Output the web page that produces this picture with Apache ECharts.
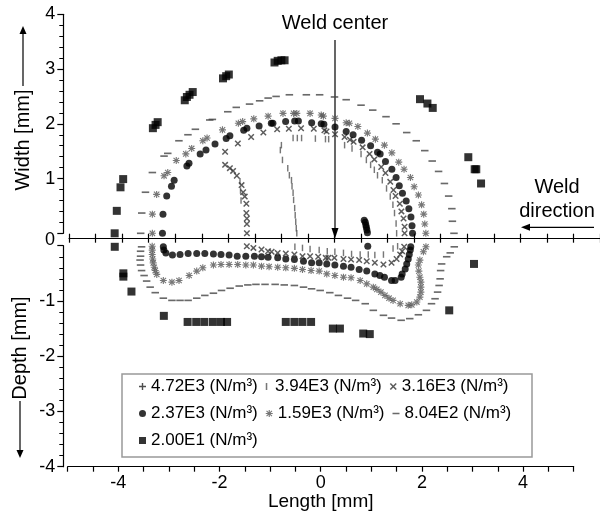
<!DOCTYPE html>
<html>
<head>
<meta charset="utf-8">
<script src="https://cdn.jsdelivr.net/npm/echarts@6/dist/echarts.min.js"></script>
<style>
  html, body { margin: 0; padding: 0; background: #fff; }
  #main { width: 600px; height: 516px; }
</style>
</head>
<body>
<div id="main"></div>
<script>
// tick labels
var xTickLabels = [-4, -2, 0, 2, 4];
var yTickLabelsTop = [1, 2, 3, 4];
var yTickLabelsBottom = [-1, -2, -3, -4];

var seriesNames = ['4.72E3 (N/m³)', '3.94E3 (N/m³)', '3.16E3 (N/m³)',
                   '2.37E3 (N/m³)', '1.59E3 (N/m³)', '8.04E2 (N/m³)', '2.00E1 (N/m³)'];

// top view (width), [length, width]
var plusTop = [];
var barTop = [[-0.78,1.74],[-0.70,1.74],[-0.62,1.74],[-0.36,1.73],[-0.17,1.72],[-0.11,1.72],
  [0.19,1.61],[0.33,1.55],[0.50,1.45],[0.60,1.34],[0.68,1.25],[0.75,1.16],[0.81,1.06],[0.90,0.97],
  [0.98,0.82],[1.05,0.67],[1.10,0.52],[1.13,0.37],[1.16,0.18],[1.17,0.00],
  [-1.00,1.61],[-1.02,1.52],[-0.98,1.34],[-0.88,1.19],[-0.85,1.06],[-0.81,0.97],[-0.80,0.86],
  [-0.78,0.74],[-0.77,0.61],[-0.75,0.46],[-0.74,0.33],[-0.73,0.21],[-0.72,0.09],[-0.71,0.00],
  [-1.78,0.95],[-1.77,0.78],[-1.76,0.60]];
var crossTop = [[-1.65,0.00],[-1.65,0.17],[-1.65,0.27],[-1.66,0.37],[-1.66,0.54],[-1.69,0.67],[-1.72,0.75],
  [-1.75,0.88],[-1.84,1.05],[-1.91,1.14],[-1.97,1.19],[-2.06,1.25],[-2.06,1.49],[-1.82,1.64],[-1.57,1.76],
  [-1.34,1.84],[-1.08,1.90],[-0.86,1.91],[-0.63,1.92],[-0.39,1.91],[-0.19,1.88],[-0.15,1.86],[0.01,1.81],
  [0.19,1.76],[0.29,1.71],[0.36,1.67],[0.53,1.57],[0.66,1.45],[0.75,1.35],[0.88,1.21],[0.96,1.10],
  [1.05,0.94],[1.11,0.79],[1.15,0.68],[1.23,0.54],[1.26,0.40],[1.30,0.27],[1.32,0.12],[1.32,0.00]];
var circleTop = [[-3.24,0.00],[-3.23,0.35],[-3.16,0.68],[-3.07,0.86],[-3.02,0.97],[-2.78,1.23],[-2.74,1.28],
  [-2.53,1.45],[-2.42,1.52],[-2.25,1.63],[-2.04,1.73],[-1.97,1.78],[-1.71,1.88],[-1.65,1.92],[-1.42,1.96],
  [-1.19,2.01],[-1.16,2.01],[-0.92,2.04],[-0.75,2.05],[-0.68,2.05],[-0.43,2.02],[-0.25,2.00],[-0.20,1.99],
  [0.01,1.94],[0.22,1.86],[0.35,1.80],[0.51,1.70],[0.68,1.60],[0.81,1.48],[0.86,1.45],[0.96,1.31],
  [1.08,1.17],[1.16,1.02],[1.22,0.87],[1.28,0.73],[1.35,0.59],[1.40,0.45],[1.44,0.30],[1.46,0.14],[1.47,0.00],
  [0.56,0.24],[0.58,0.20],[0.59,0.15],[0.60,0.11],[0.61,0.06],[0.62,0.01]];
var starTop = [[-3.43,0.00],[-3.43,0.35],[-3.35,0.71],[-3.21,1.05],[-3.14,1.11],[-2.98,1.33],[-2.80,1.45],
  [-2.69,1.55],[-2.48,1.69],[-2.40,1.74],[-2.11,1.89],[-1.81,2.01],[-1.73,2.04],[-1.52,2.09],[-1.25,2.14],
  [-0.97,2.19],[-0.77,2.19],[-0.71,2.19],[-0.46,2.19],[-0.25,2.16],[-0.21,2.14],[0.01,2.10],[0.22,2.02],
  [0.28,2.01],[0.44,1.95],[0.62,1.83],[0.77,1.72],[0.94,1.61],[1.08,1.47],[1.21,1.30],[1.31,1.17],
  [1.43,1.02],[1.50,0.85],[1.58,0.70],[1.64,0.52],[1.68,0.35],[1.70,0.17],[1.72,0.00]];
var dashTop = [[-3.65,0.00],[-3.63,0.37],[-3.56,0.75],[-3.43,1.11],[-3.21,1.41],[-3.14,1.46],[-2.93,1.69],
  [-2.76,1.80],[-2.62,1.90],[-2.35,2.07],[-2.30,2.08],[-2.01,2.22],[-1.85,2.30],[-1.60,2.36],[-1.41,2.42],
  [-1.25,2.47],[-1.10,2.50],[-0.85,2.53],[-0.53,2.53],[-0.28,2.53],[0.00,2.49],[0.22,2.44],[0.50,2.34],
  [0.72,2.25],[0.97,2.13],[1.16,2.00],[1.36,1.84],[1.54,1.69],[1.70,1.51],[1.84,1.32],[1.96,1.13],
  [2.07,0.91],[2.15,0.68],[2.21,0.45],[2.22,0.22],[2.25,0.00]];
var squareTop = [[-4.14,0.00],[-4.10,0.41],[-4.03,0.84],[-3.98,0.99],[-3.42,1.92],[-3.37,1.98],[-3.33,2.03],
  [-2.82,2.43],[-2.78,2.49],[-2.73,2.53],[-2.67,2.58],[-2.10,2.83],[-2.04,2.87],[-1.99,2.90],
  [-1.13,3.12],[-1.07,3.15],[-1.00,3.16],[-0.94,3.16],[1.61,2.45],[1.75,2.37],[1.85,2.29],
  [2.52,1.39],[2.64,1.17],[2.67,1.17],[2.76,0.91]];

// cross section (depth), [length, depth]
var plusBottom = [];
var barBottom = [[-0.51,-0.02],[-0.36,-0.04],[-0.21,-0.06],[-0.03,-0.08],[0.13,-0.10],[0.28,-0.11],
  [0.45,-0.13],[0.61,-0.15],[0.78,-0.16],[0.94,-0.16],[1.07,-0.17],[1.24,-0.16],[1.43,-0.05],[1.52,-0.01]];
var crossBottom = [[-1.46,-0.01],[-1.33,-0.04],[-1.17,-0.07],[-1.04,-0.10],[-0.97,-0.11],[-0.85,-0.13],
  [-0.69,-0.14],[-0.52,-0.16],[-0.36,-0.19],[-0.21,-0.19],[-0.05,-0.20],[0.10,-0.22],[0.15,-0.22],
  [0.27,-0.22],[0.45,-0.24],[0.60,-0.25],[0.76,-0.26],[0.91,-0.28],[1.07,-0.31],[1.24,-0.34],
  [1.40,-0.31],[1.50,-0.24],[1.57,-0.16],[1.61,-0.10],[1.65,-0.02]];
var circleBottom = [[-3.11,-0.02],[-3.10,-0.08],[-3.06,-0.13],[-2.93,-0.17],[-2.78,-0.16],[-2.62,-0.14],
  [-2.45,-0.14],[-2.29,-0.14],[-2.12,-0.15],[-1.97,-0.16],[-1.81,-0.17],[-1.65,-0.19],[-1.48,-0.19],
  [-1.31,-0.19],[-1.17,-0.20],[-1.04,-0.21],[-0.85,-0.22],[-0.69,-0.24],[-0.52,-0.25],[-0.34,-0.28],
  [-0.18,-0.31],[-0.03,-0.31],[0.12,-0.33],[0.28,-0.35],[0.45,-0.37],[0.60,-0.39],[0.76,-0.43],
  [0.91,-0.46],[1.07,-0.51],[1.17,-0.54],[1.26,-0.57],[1.40,-0.63],[1.47,-0.63],[1.59,-0.57],
  [1.61,-0.51],[1.67,-0.42],[1.70,-0.33],[1.73,-0.24],[1.75,-0.16],[1.77,-0.08],[1.78,-0.02],[0.93,-0.01]];
var starBottom = [[-3.33,-0.01],[-3.33,-0.08],[-3.33,-0.16],[-3.32,-0.24],[-3.31,-0.31],[-3.29,-0.39],
  [-3.27,-0.45],[-3.24,-0.52],[-3.11,-0.63],[-2.94,-0.66],[-2.80,-0.63],[-2.60,-0.54],[-2.45,-0.46],
  [-2.33,-0.40],[-2.12,-0.35],[-1.97,-0.34],[-1.81,-0.34],[-1.64,-0.34],[-1.48,-0.35],[-1.33,-0.35],
  [-1.17,-0.37],[-1.02,-0.38],[-0.85,-0.39],[-0.69,-0.40],[-0.52,-0.41],[-0.36,-0.43],[-0.19,-0.45],
  [-0.03,-0.46],[0.12,-0.51],[0.28,-0.54],[0.45,-0.57],[0.60,-0.58],[0.78,-0.63],[0.91,-0.69],
  [1.04,-0.75],[1.11,-0.79],[1.19,-0.84],[1.27,-0.90],[1.35,-0.95],[1.43,-0.99],[1.57,-1.05],
  [1.73,-1.08],[1.80,-1.07],[1.90,-1.02],[1.96,-0.93],[1.98,-0.84],[1.98,-0.75],[1.98,-0.66],
  [1.96,-0.57],[1.94,-0.46],[1.93,-0.35],[1.96,-0.26],[2.03,-0.11],[2.08,-0.02]];
var dashBottom = [[-3.54,-0.02],[-3.56,-0.10],[-3.56,-0.19],[-3.57,-0.26],[-3.56,-0.35],[-3.54,-0.45],
  [-3.49,-0.54],[-3.44,-0.64],[-3.37,-0.75],[-3.27,-0.85],[-3.11,-0.95],[-2.94,-0.99],[-2.78,-0.99],
  [-2.62,-0.99],[-2.45,-0.95],[-2.29,-0.90],[-2.12,-0.86],[-1.96,-0.81],[-1.79,-0.77],[-1.61,-0.73],
  [-1.44,-0.71],[-1.28,-0.70],[-1.10,-0.70],[-0.90,-0.70],[-0.72,-0.71],[-0.52,-0.72],[-0.34,-0.75],
  [-0.18,-0.78],[-0.01,-0.81],[0.18,-0.85],[0.35,-0.90],[0.53,-0.95],[0.69,-0.99],[0.88,-1.05],
  [1.04,-1.17],[1.24,-1.26],[1.40,-1.31],[1.59,-1.35],[1.76,-1.32],[1.93,-1.25],[2.09,-1.17],
  [2.19,-1.05],[2.26,-0.96],[2.31,-0.84],[2.34,-0.72],[2.36,-0.60],[2.37,-0.45],[2.39,-0.33],
  [2.49,-0.20],[2.56,-0.13],[2.64,-0.02]];
var squareBottom = [[-4.07,-0.02],[-3.90,-0.50],[-3.90,-0.56],[-3.74,-0.83],[-3.10,-1.27],[-2.63,-1.38],
  [-2.46,-1.38],[-2.30,-1.38],[-2.13,-1.38],[-1.97,-1.38],[-1.85,-1.38],[-0.69,-1.38],[-0.52,-1.38],
  [-0.36,-1.38],[-0.19,-1.38],[0.24,-1.50],[0.38,-1.50],[0.84,-1.59],[0.97,-1.60],[2.54,-1.17],[3.03,-0.33]];

var FONT = '"Liberation Sans", Arial, sans-serif';

// marker shapes
var SYM = {
  plus: 'path://M4,0H6V10H4ZM0,4H10V6H0Z',
  bar: 'path://M0,0H2.2V10H0Z',
  cross: 'path://M0,1.6L1.6,0L10,8.4L8.4,10ZM8.4,0L10,1.6L1.6,10L0,8.4Z',
  star: 'path://M4.2,0H5.8V10H4.2ZM0,4.2H10V5.8H0ZM0.6,1.7L1.7,0.6L9.4,8.3L8.3,9.4ZM8.3,0.6L9.4,1.7L1.7,9.4L0.6,8.3Z',
  dash: 'path://M0,0H10V2.2H0Z'
};

function sc(name, data, lower, symbol, size, color) {
  return {
    name: name, type: 'scatter', data: data,
    xAxisIndex: lower ? 2 : 0, yAxisIndex: lower ? 1 : 0,
    symbol: symbol, symbolSize: size, symbolKeepAspect: true,
    itemStyle: { color: color }, silent: true
  };
}

var series = [];
[[plusTop, plusBottom, SYM.plus, 6, '#222'],
 [barTop, barBottom, SYM.bar, 6.5, '#555'],
 [crossTop, crossBottom, SYM.cross, 6.5, '#333'],
 [circleTop, circleBottom, 'circle', 7, '#000'],
 [starTop, starBottom, SYM.star, 7, '#555'],
 [dashTop, dashBottom, SYM.dash, 7.5, '#444'],
 [squareTop, squareBottom, 'rect', 8, '#000']
].forEach(function (s, i) {
  series.push(sc(seriesNames[i], s[0], false, s[2], s[3], s[4]));
  series.push(sc(seriesNames[i], s[1], true, s[2], s[3], s[4]));
});

var lineStyle = { color: '#000', width: 1.2 };
var labelStyle = { fontSize: 18, fontFamily: FONT, color: '#000' };

var myChart = echarts.init(document.getElementById('main'));
myChart.setOption({
  animation: false,
  backgroundColor: '#fff',
  grid: [
    { left: 69, top: 14.3, width: 532, height: 219 },
    { left: 67.7, top: 245.7, width: 506, height: 221 }
  ],
  xAxis: [
    { gridIndex: 0, type: 'value', min: -5, max: 5, interval: 0.5, position: 'bottom', offset: 5.4,
      axisLine: { onZero: false, lineStyle: lineStyle }, axisTick: { inside: true, length: 5, lineStyle: lineStyle },
      axisLabel: { show: false }, splitLine: { show: false } },
    { gridIndex: 0, type: 'value', min: -5, max: 5, interval: 0.5, position: 'bottom', offset: 5.4,
      axisLine: { onZero: false, show: false }, axisTick: { inside: false, length: 4, lineStyle: lineStyle },
      axisLabel: { show: false }, splitLine: { show: false } },
    { gridIndex: 1, type: 'value', min: -5, max: 5, interval: 0.5, position: 'bottom',
      axisLine: { onZero: false, lineStyle: lineStyle }, axisTick: { length: 5, lineStyle: lineStyle },
      axisLabel: Object.assign({ margin: 7,
        formatter: function (v) { return xTickLabels.indexOf(v) >= 0 ? String(v) : ''; } }, labelStyle),
      splitLine: { show: false },
      name: 'Length [mm]', nameLocation: 'middle', nameGap: 26,
      nameTextStyle: { fontSize: 19, fontFamily: FONT, color: '#000' } }
  ],
  yAxis: [
    { gridIndex: 0, type: 'value', min: 0, max: 4, interval: 1, offset: 5.7,
      axisLine: { show: true, onZero: false, lineStyle: lineStyle }, axisTick: { show: true, length: 6, lineStyle: lineStyle },
      minorTick: { show: true, splitNumber: 5, length: 4, lineStyle: { color: '#000', width: 1 } },
      axisLabel: Object.assign({ margin: 8,
        formatter: function (v) { return yTickLabelsTop.indexOf(v) >= 0 ? String(v) : ''; } }, labelStyle),
      splitLine: { show: false } },
    { gridIndex: 1, type: 'value', min: -4, max: 0, interval: 1, offset: 4.4,
      axisLine: { show: true, onZero: false, lineStyle: lineStyle }, axisTick: { show: true, length: 6, lineStyle: lineStyle },
      minorTick: { show: true, splitNumber: 5, length: 4, lineStyle: { color: '#000', width: 1 } },
      axisLabel: Object.assign({ margin: 8,
        formatter: function (v) { return yTickLabelsBottom.indexOf(v) >= 0 ? String(v) : ''; } }, labelStyle),
      splitLine: { show: false } }
  ],
  legend: {
    data: seriesNames, selectedMode: false,
    left: 139, top: 377, width: 390, padding: 0,
    itemWidth: 7, itemHeight: 7, itemGap: 8,
    textStyle: { fontSize: 17, fontFamily: FONT, color: '#000', lineHeight: 19, width: 105 }
  },
  graphic: [
    { type: 'rect', shape: { x: 122, y: 374, width: 410, height: 83 },
      style: { fill: 'none', stroke: '#999', lineWidth: 1.5 } },
    { type: 'text', x: 55, y: 240, style: { text: '0', align: 'right', verticalAlign: 'middle', font: '18px ' + FONT, fill: '#000' } },
    { type: 'text', x: 335, y: 23, style: { text: 'Weld center', align: 'center', verticalAlign: 'middle', font: '20px ' + FONT, fill: '#000' } },
    { type: 'line', shape: { x1: 335, y1: 40, x2: 335, y2: 230 }, style: { stroke: '#000', lineWidth: 1.2 } },
    { type: 'polygon', shape: { points: [[331.5, 228], [338.5, 228], [335, 238.5]] }, style: { fill: '#000' } },
    { type: 'text', x: 557, y: 187, style: { text: 'Weld', align: 'center', verticalAlign: 'middle', font: '20px ' + FONT, fill: '#000' } },
    { type: 'text', x: 557, y: 211, style: { text: 'direction', align: 'center', verticalAlign: 'middle', font: '20px ' + FONT, fill: '#000' } },
    { type: 'line', shape: { x1: 594, y1: 227.3, x2: 528, y2: 227.3 }, style: { stroke: '#000', lineWidth: 1.2 } },
    { type: 'polygon', shape: { points: [[530, 223.8], [530, 230.8], [521, 227.3]] }, style: { fill: '#000' } },
    { type: 'text', x: 23, y: 140, rotation: Math.PI / 2,
      style: { text: 'Width [mm]', align: 'center', verticalAlign: 'middle', font: '20px ' + FONT, fill: '#000' } },
    { type: 'line', shape: { x1: 23, y1: 86, x2: 23, y2: 32 }, style: { stroke: '#000', lineWidth: 1.2 } },
    { type: 'polygon', shape: { points: [[19.5, 34], [26.5, 34], [23, 26]] }, style: { fill: '#000' } },
    { type: 'text', x: 20, y: 348, rotation: Math.PI / 2,
      style: { text: 'Depth [mm]', align: 'center', verticalAlign: 'middle', font: '20px ' + FONT, fill: '#000' } },
    { type: 'line', shape: { x1: 20, y1: 401, x2: 20, y2: 452 }, style: { stroke: '#000', lineWidth: 1.2 } },
    { type: 'polygon', shape: { points: [[16.5, 450], [23.5, 450], [20, 458]] }, style: { fill: '#000' } }
  ],
  series: series
});
</script>
</body>
</html>
